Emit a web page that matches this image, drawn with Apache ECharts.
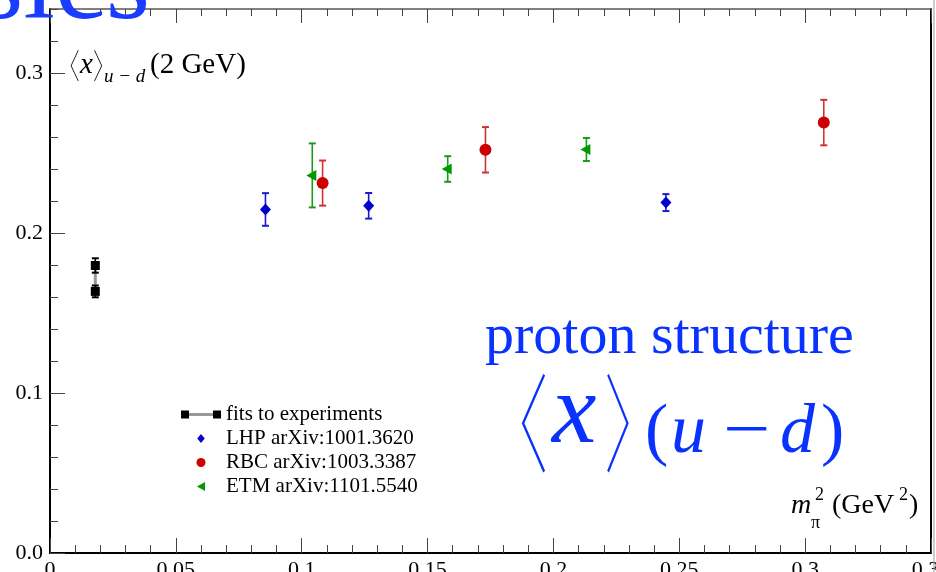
<!DOCTYPE html>
<html>
<head>
<meta charset="utf-8">
<script src="https://cdn.jsdelivr.net/npm/echarts@6/dist/echarts.min.js"></script>
<style>
html,body{margin:0;padding:0;background:#fff;}
#chart{width:936px;height:572px;}
</style>
</head>
<body>
<div id="chart"></div>
<script>
// ---- data ----
const xTicks = [0, 0.05, 0.1, 0.15, 0.2, 0.25, 0.3, 0.35];
const yTicks = [0.0, 0.1, 0.2, 0.3];

const fitName = 'fits to experiments';
const fitX = [0.018, 0.018];
const fitY = [0.1797, 0.1635];
const fitErr = [0.0045, 0.0037];

const lhpName = 'LHP arXiv:1001.3620';
const lhpX = [0.0856, 0.1266, 0.2447];
const lhpY = [0.2147, 0.2170, 0.2190];
const lhpErr = [0.0102, 0.0080, 0.0053];

const rbcName = 'RBC arXiv:1003.3387';
const rbcX = [0.1083, 0.1730, 0.3074];
const rbcY = [0.2312, 0.2520, 0.2690];
const rbcErr = [0.0141, 0.0142, 0.0142];

const etmName = 'ETM arXiv:1101.5540';
const etmX = [0.1042, 0.1580, 0.2131];
const etmY = [0.2360, 0.2400, 0.2522];
const etmErr = [0.0200, 0.0080, 0.0072];

// ---- helpers ----
const SERIF = '"Liberation Serif", "Times New Roman", serif';
function pts(xs, ys) { return xs.map((x, i) => [x, ys[i]]); }
function errs(xs, ys, es) { return xs.map((x, i) => [x, ys[i] - es[i], ys[i] + es[i]]); }
function errSeries(data, color) {
  return {
    type: 'custom',
    xAxisIndex: 0, yAxisIndex: 0,
    data: data,
    encode: { x: 0, y: [1, 2] },
    z: 3,
    silent: true,
    renderItem: function (params, api) {
      const x = api.value(0);
      const a = api.coord([x, api.value(1)]);
      const b = api.coord([x, api.value(2)]);
      const w = 3.5;
      const st = { stroke: color, lineWidth: 1.6 };
      return {
        type: 'group',
        children: [
          { type: 'line', shape: { x1: a[0], y1: a[1], x2: b[0], y2: b[1] }, style: st },
          { type: 'line', shape: { x1: a[0] - w, y1: a[1], x2: a[0] + w, y2: a[1] }, style: { stroke: color, lineWidth: 2 } },
          { type: 'line', shape: { x1: b[0] - w, y1: b[1], x2: b[0] + w, y2: b[1] }, style: { stroke: color, lineWidth: 2 } }
        ]
      };
    }
  };
}

const chart = echarts.init(document.getElementById('chart'), null, { renderer: 'canvas' });

const tickStyle = { color: '#444', width: 1 };
const fitGrad = {
  type: 'linear', x: 0, y: 0, x2: 1, y2: 0,
  colorStops: [
    { offset: 0, color: '#000' }, { offset: 0.2, color: '#000' },
    { offset: 0.2, color: '#999' }, { offset: 0.8, color: '#999' },
    { offset: 0.8, color: '#000' }, { offset: 1, color: '#000' }
  ]
};
const BLUE = '#0a32ff';
function txt(text, x, y, font, fill, sx) {
  return { type: 'text', z: 10, silent: true, x: x, y: y, scaleX: sx || 1,
    style: { text: text, x: 0, y: 0, align: 'left', verticalAlign: 'middle', font: font, fill: fill || '#000' } };
}

const option = {
  animation: false,
  backgroundColor: '#fff',
  grid: { left: 50, right: 5, top: 9, bottom: 19, containLabel: false, outerBoundsMode: 'none' },
  xAxis: [
    {
      type: 'value', min: xTicks[0], max: xTicks[xTicks.length - 1], interval: 0.05,
      position: 'bottom',
      axisLine: { show: true, onZero: false, lineStyle: { color: '#000', width: 2 } },
      axisTick: { show: true, inside: true, length: 15, lineStyle: tickStyle },
      minorTick: { show: true, splitNumber: 5, length: 8, lineStyle: tickStyle },
      splitLine: { show: false }, minorSplitLine: { show: false },
      axisLabel: {
        show: true, margin: 6, color: '#000', fontFamily: SERIF, fontSize: 22,
        showMinLabel: true, showMaxLabel: true, hideOverlap: false,
        formatter: v => String(+v.toFixed(2))
      }
    },
    {
      type: 'value', min: xTicks[0], max: xTicks[xTicks.length - 1], interval: 0.05,
      position: 'top',
      axisLine: { show: true, onZero: false, lineStyle: { color: '#555', width: 1.5 } },
      axisTick: { show: true, inside: true, length: 14, lineStyle: tickStyle },
      minorTick: { show: true, splitNumber: 5, length: 7, lineStyle: tickStyle },
      splitLine: { show: false }, axisLabel: { show: false }
    }
  ],
  yAxis: [
    {
      type: 'value', min: 0, max: 0.34, interval: 0.1, position: 'left',
      axisLine: { show: true, onZero: false, lineStyle: { color: '#000', width: 2 } },
      axisTick: { show: true, inside: true, length: 15, lineStyle: tickStyle },
      splitLine: { show: false },
      axisLabel: {
        show: true, margin: 7, color: '#000', fontFamily: SERIF, fontSize: 22,
        showMaxLabel: false,
        formatter: v => yTicks.some(t => Math.abs(t - v) < 1e-9) ? v.toFixed(1) : ''
      }
    },
    {
      type: 'value', min: 0, max: 0.34, interval: 0.02, position: 'left', offset: 0,
      axisLine: { show: false, onZero: false },
      axisTick: { show: true, inside: true, length: 8, lineStyle: tickStyle },
      splitLine: { show: false }, axisLabel: { show: false }
    },
    {
      type: 'value', min: 0, max: 0.34, interval: 0.1, position: 'right',
      axisLine: { show: true, onZero: false, lineStyle: { color: '#000', width: 2 } },
      axisTick: { show: false }, splitLine: { show: false }, axisLabel: { show: false }
    }
  ],
  legend: {
    orient: 'vertical', left: 176, top: 399,
    itemWidth: 40, itemHeight: 9, itemGap: 3,
    textStyle: { fontFamily: SERIF, fontSize: 21, color: '#000', padding: [0, 0, 0, 0] },
    data: [
      { name: fitName, icon: 'path://M0,0h8v8h-8z M8,2.5h24v3h-24z M32,0h8v8h-8z', itemStyle: { color: fitGrad } },
      { name: lhpName, icon: 'path://M5,0L10,6L5,12L0,6Z' },
      { name: rbcName, icon: 'circle' },
      { name: etmName, icon: 'path://M0,5L9,0L9,10Z' }
    ]
  },
  series: [
    {
      type: 'line', name: 'fit-link', xAxisIndex: 0, yAxisIndex: 0,
      data: pts(fitX, fitY), symbol: 'none', z: 2,
      lineStyle: { color: '#999', width: 3 }, silent: true
    },
    errSeries(errs(fitX, fitY, fitErr), '#000'),
    {
      type: 'scatter', name: fitName, xAxisIndex: 0, yAxisIndex: 0,
      data: pts(fitX, fitY), symbol: 'rect', symbolSize: 9, z: 4,
      itemStyle: { color: '#000', opacity: 1 }
    },
    errSeries(errs(lhpX, lhpY, lhpErr), '#1a1ad0'),
    {
      type: 'scatter', name: lhpName, xAxisIndex: 0, yAxisIndex: 0,
      data: pts(lhpX, lhpY), symbol: 'diamond', symbolSize: [11, 12], z: 4,
      itemStyle: { color: '#0000cc', opacity: 1 }
    },
    errSeries(errs(rbcX, rbcY, rbcErr), '#d43030'),
    {
      type: 'scatter', name: rbcName, xAxisIndex: 0, yAxisIndex: 0,
      data: pts(rbcX, rbcY), symbol: 'circle', symbolSize: 12, z: 4,
      itemStyle: { color: '#cc0000', opacity: 1 }
    },
    errSeries(errs(etmX, etmY, etmErr), '#1a9a1a'),
    {
      type: 'scatter', name: etmName, xAxisIndex: 0, yAxisIndex: 0,
      data: pts(etmX, etmY), symbol: 'triangle', symbolRotate: 90, symbolSize: [11, 10], z: 4,
      symbolOffset: [-1, 0],
      itemStyle: { color: '#009900', opacity: 1 }
    }
  ],
  graphic: [
    // slide border line
    { type: 'rect', shape: { x: 933.5, y: 0, width: 1, height: 572 }, style: { fill: '#999' }, silent: true, z: 10 },
    // cut-off title
    { type: 'text', z: 10, silent: true, style: { text: 'Physics', x: 150, y: -12, align: 'right', verticalAlign: 'middle', font: 'normal 114px ' + SERIF, fill: '#1a3cff' } },
    // y-axis quantity label
    txt('〈', 56, 66, '100 34px "Noto Sans CJK SC"', '#000', 0.7),
    txt('x', 80, 65, 'italic 29px ' + SERIF),
    txt('〉', 93, 66, '100 34px "Noto Sans CJK SC"', '#000', 0.7),
    txt('u − d', 104, 77, 'italic 19px ' + SERIF),
    txt('(2 GeV)', 150, 65, 'normal 29px ' + SERIF),
    // x-axis quantity label
    txt('m', 791, 506, 'italic 28px ' + SERIF),
    txt('π', 811, 523, 'normal 18px ' + SERIF),
    txt('2', 815, 495, 'normal 18px ' + SERIF),
    txt('(GeV', 832, 506, 'normal 28px ' + SERIF),
    txt('2', 899, 495, 'normal 18px ' + SERIF),
    txt(')', 909, 506, 'normal 28px ' + SERIF),
    // annotation
    txt('proton structure', 485, 338, 'normal 58px ' + SERIF, BLUE),
    txt('〈', 479, 423, '100 107px "Noto Sans CJK SC"', BLUE, 0.65),
    txt('x', 552, 416, 'italic 100px ' + SERIF, BLUE),
    txt('〉', 604, 423, '100 107px "Noto Sans CJK SC"', BLUE, 0.6),
    txt('(', 645, 434, 'normal 70px ' + SERIF, BLUE),
    txt('u', 671, 434, 'italic 70px ' + SERIF, BLUE),
    txt('−', 723, 434, 'normal 70px ' + SERIF, BLUE, 1.2),
    txt('d', 780, 434, 'italic 70px ' + SERIF, BLUE),
    txt(')', 821, 434, 'normal 70px ' + SERIF, BLUE)
  ]
};

chart.setOption(option);
</script>
</body>
</html>
